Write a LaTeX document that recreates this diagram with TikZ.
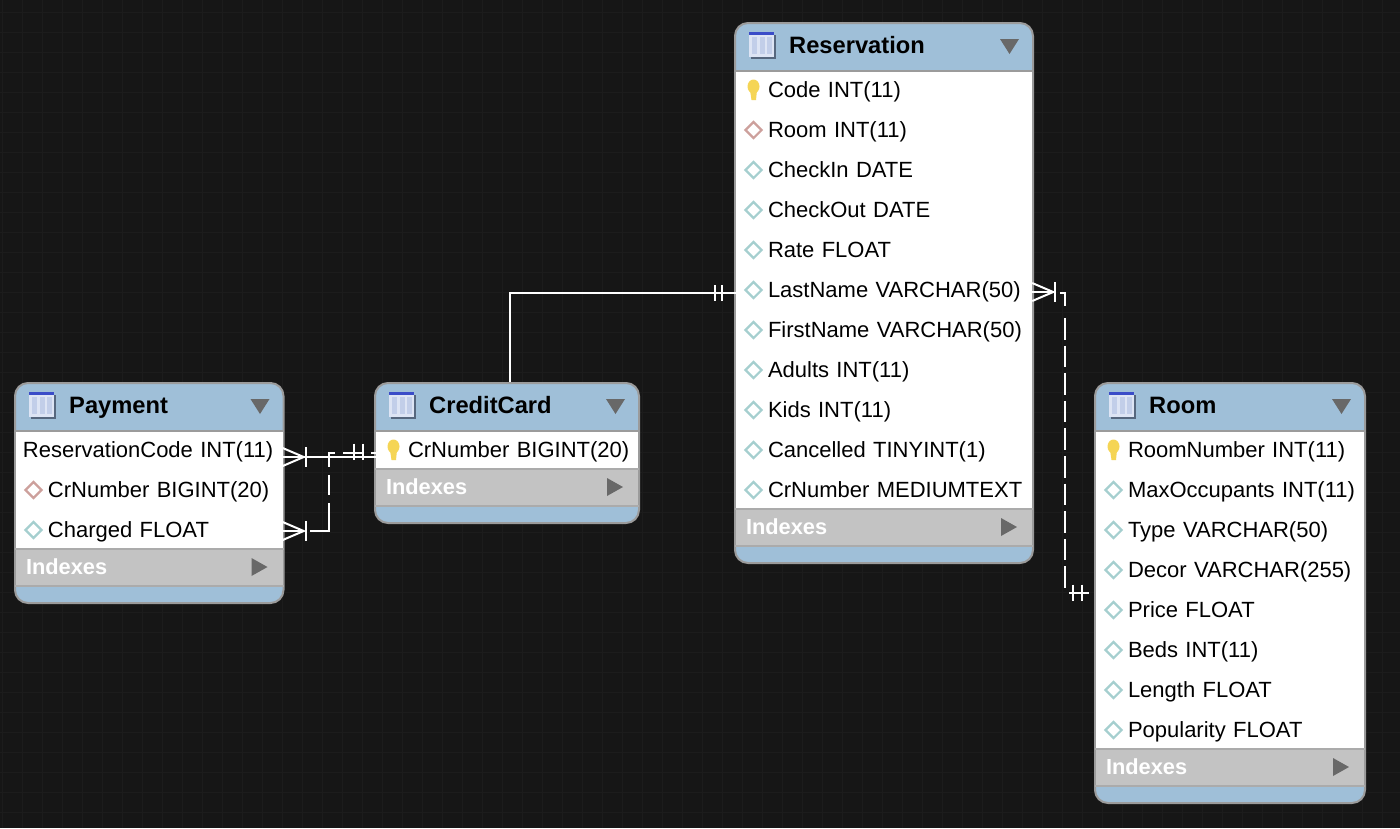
\documentclass[tikz,border=0pt]{standalone}
\usepackage{fontspec}
\setmainfont{Liberation Sans}
\usetikzlibrary{positioning,shapes.geometric}
\definecolor{canvasbg}{HTML}{161616}
\definecolor{canvasgrid}{HTML}{1C1C1C}
\definecolor{headblue}{HTML}{9FBFD8}
\definecolor{frameg}{HTML}{9B9B9B}
\definecolor{indexg}{HTML}{C3C3C3}
\definecolor{indexline}{HTML}{ABABAB}
\definecolor{arrowg}{HTML}{686868}
\definecolor{keyy}{HTML}{F5D555}
\definecolor{fkred}{HTML}{CDA09C}
\definecolor{colteal}{HTML}{A5CFCF}
\definecolor{tabshadow}{HTML}{56677E}
\definecolor{tabbody}{HTML}{DDE4F4}
\definecolor{tabtop}{HTML}{3A4CC8}
\definecolor{tabcol}{HTML}{C2CEE9}

\newcommand{\dbtable}[7]{
  \pgfmathsetmacro{\tabh}{49+#6*40-4+39+16}
  \pgfmathsetmacro{\rowtw}{#4-2}
  \node (#1) [tablebox, minimum width=#4, minimum height=\tabh] at ({#2+#4/2},{#3+\tabh/2}) {};
  \foreach \ic/\ctext [count=\ri] in {#7}{
    \node (#1-\ri) [rowbox, text width=\rowtw pt] at ({#2+#4/2},{#3+67+40*(\ri-1)}) {\hspace*{32pt}\ctext};
    \node (#1-mark-\ri) [\ic] at ({#2+18.5},{#3+67+40*(\ri-1)}) {};
  }
  \fill[frameg] (#2,#3+47) rectangle (#2+#4,#3+49);
  \node (#1-idx) [indexbox, text width=\rowtw pt] at ({#2+#4/2},{#3+45+40*#6+19.5}) {\hspace*{10pt}Indexes};
  \fill[indexline] (#2,#3+45+40*#6) rectangle (#2+#4,#3+47+40*#6);
  \fill[indexline] (#2,#3+82+40*#6) rectangle (#2+#4,#3+84+40*#6);
  \fill[arrowg] (#2+#4-32,#3+45+40*#6+10) -- (#2+#4-16,#3+45+40*#6+19) -- (#2+#4-32,#3+45+40*#6+28) -- cycle;
  \fill[arrowg] (#2+#4-33,#3+16) -- (#2+#4-14,#3+16) -- (#2+#4-23.5,#3+31) -- cycle;
  \fill[tabshadow] (#2+16,#3+12) rectangle (#2+41,#3+36);
  \fill[tabbody] (#2+14,#3+9) rectangle (#2+39,#3+34);
  \fill[tabtop] (#2+14,#3+9) rectangle (#2+39,#3+12);
  \foreach \cx in {17,24.5,32} \fill[tabcol] (#2+\cx,#3+14) rectangle (#2+\cx+5,#3+31);
  \node (#1-title) [headtext] at (#2+54,#3+30) {#5};
}
\newcommand{\crowfoot}[2]{
  \draw[rel] ([yshift=#2+9]#1) -- ([xshift=21,yshift=#2]#1) -- ([yshift=#2-9]#1);
  \draw[rel] ([yshift=#2]#1) -- ([xshift=21,yshift=#2]#1);
  \draw[rel] ([xshift=23,yshift=#2+10]#1) -- ([xshift=23,yshift=#2-10]#1);
}
\newcommand{\onebars}[3]{
  \foreach \tx in {#2}{\draw[rel] ([xshift=\tx,yshift=#3+8]#1) -- ([xshift=\tx,yshift=#3-8]#1);}
}

\begin{document}
\begin{tikzpicture}[x=1pt,y=-1pt,
    tablebox/.style={draw=frameg, line width=2pt, fill=headblue, rounded corners=13, inner sep=0},
    rowbox/.style={fill=white, inner xsep=0, inner ysep=0, minimum height=40, text height=17, text depth=3, align=left,
                   font=\fontsize{22}{24}\selectfont, text=black},
    indexbox/.style={fill=indexg, inner xsep=0, inner ysep=0, minimum height=39, text height=16.5, text depth=3.5, align=left,
                   font=\fontsize{21.8}{24}\selectfont\bfseries, text=white},
    headtext/.style={anchor=base west, font=\fontsize{23.7}{26}\selectfont\bfseries, inner sep=0, text=black},
    pkmark/.style={minimum width=14, minimum height=22, inner sep=0, path picture={
        \fill[keyy] ([yshift=3.5]path picture bounding box.center) ellipse (6 and 7);
        \fill[keyy] ([xshift=-3.5]path picture bounding box.center) -- ([xshift=3.5]path picture bounding box.center)
            -- ([xshift=2.5,yshift=-10]path picture bounding box.center) -- ([xshift=-2,yshift=-10]path picture bounding box.center) -- cycle;
    }},
    fkmark/.style={diamond, aspect=1, minimum size=17, inner sep=0, fill=white, draw=fkred, line width=2.2pt},
    colmark/.style={diamond, aspect=1, minimum size=17, inner sep=0, fill=white, draw=colteal, line width=2.2pt},
    nomark/.style={inner sep=0},
    rel/.style={white, line width=2pt}
]
\useasboundingbox (0,0) rectangle (1400,828);
\fill[canvasbg] (0,0) rectangle (1400,828);
\foreach \gx in {2,22,...,1400} \draw[canvasgrid, line width=1pt] (\gx,0) -- (\gx,828);
\foreach \gy in {12,32,...,828} \draw[canvasgrid, line width=1pt] (0,\gy) -- (1400,\gy);

\dbtable{Payment}{15}{383}{268.5}{Payment}{3}{nomark/\hspace*{-25pt}ReservationCode INT(11), fkmark/CrNumber BIGINT(20), colmark/Charged FLOAT}
\dbtable{CreditCard}{375}{383}{264}{CreditCard}{1}{pkmark/CrNumber BIGINT(20)}
\dbtable{Reservation}{735}{23}{298}{Reservation}{11}{pkmark/Code INT(11), fkmark/Room INT(11), colmark/CheckIn DATE, colmark/CheckOut DATE, colmark/Rate FLOAT, colmark/LastName VARCHAR(50), colmark/FirstName VARCHAR(50), colmark/Adults INT(11), colmark/Kids INT(11), colmark/Cancelled TINYINT(1), colmark/CrNumber MEDIUMTEXT}
\dbtable{Room}{1095}{383}{270}{Room}{8}{pkmark/RoomNumber INT(11), colmark/MaxOccupants INT(11), colmark/Type VARCHAR(50), colmark/Decor VARCHAR(255), colmark/Price FLOAT, colmark/Beds INT(11), colmark/Length FLOAT, colmark/Popularity FLOAT}

\coordinate (paybend) at (329,453);
\coordinate (roomtop) at (1065,308);
\coordinate (roomdash) at (1065,318);
\coordinate (roombend) at (1065,593);

\draw[rel] ([xshift=2.5]CreditCard.north) |- ([yshift=-3]Reservation-6.west);
\onebars{Reservation-6.west}{-20.5,-13.5}{-3}
\draw[rel] ([yshift=-7]Payment-1.east) -- ([yshift=-7]CreditCard-1.west);
\crowfoot{Payment-1.east}{-7}
\onebars{CreditCard-1.west}{-22,-13}{-1.5}
\draw[rel, dash pattern=on 0 off 27.5 on 47 off 8 on 20 off 8 on 20 off 8 on 20 off 8 on 3] ([yshift=-1]Payment-3.east) -| (paybend) -- ([yshift=-3]CreditCard-1.west);
\crowfoot{Payment-3.east}{-1}
\crowfoot{Reservation-6.east}{-2}
\draw[rel, dash pattern=on 0 off 28 on 18 off 100] ([yshift=-3]Reservation-6.east) -| (roomtop);
\draw[rel, dash pattern=on 21.6 off 6] (roomdash) -- (roombend);
\draw[rel, dash pattern=on 0 off 4 on 20 off 20] (roombend) -- ([yshift=17]Room-5.west);
\onebars{Room-5.west}{-22.5,-13.5}{17.5}
\end{tikzpicture}
\end{document}
